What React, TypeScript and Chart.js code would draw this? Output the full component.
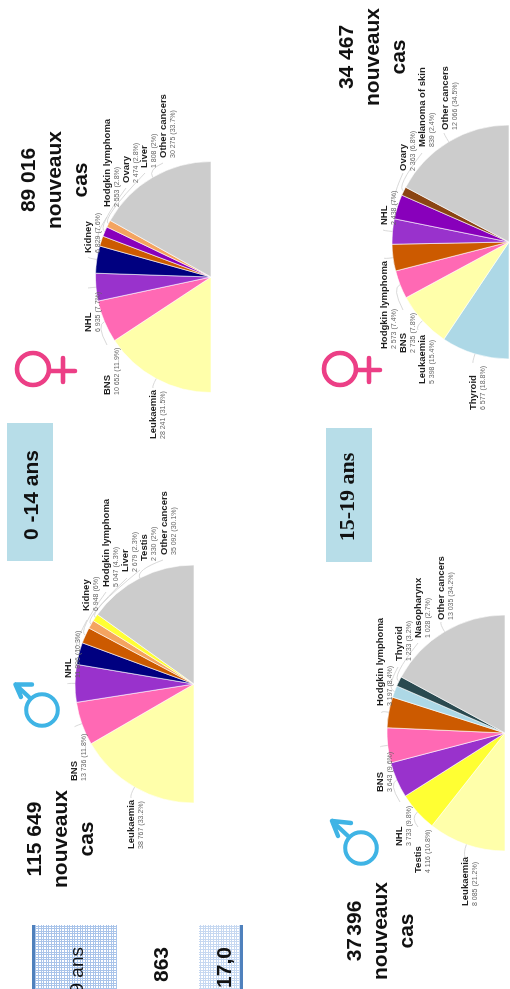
import React, { useEffect, useRef } from "react";
import { Chart, registerables } from "chart.js";

Chart.register(...registerables);

// ---- data ----
const maleChildLabels = ["Leukaemia", "BNS", "NHL", "Kidney", "Hodgkin lymphoma", "Liver", "Testis", "Other cancers"];
const maleChildValues = [38767, 13736, 11896, 6948, 5047, 2679, 2330, 35092];
const maleChildPercents = ["33.2", "11.8", "10.3", "6", "4.3", "2.3", "2", "30.1"];

const femaleChildLabels = ["Leukaemia", "BNS", "NHL", "Kidney", "Hodgkin lymphoma", "Ovary", "Liver", "Other cancers"];
const femaleChildValues = [28241, 10652, 6935, 6829, 2553, 2474, 1808, 30275];
const femaleChildPercents = ["31.5", "11.9", "7.7", "7.6", "2.8", "2.8", "2", "33.7"];

const maleTeenLabels = ["Leukaemia", "Testis", "NHL", "BNS", "Hodgkin lymphoma", "Thyroid", "Nasopharynx", "Other cancers"];
const maleTeenValues = [8085, 4116, 3733, 3643, 3197, 1233, 1028, 13035];
const maleTeenPercents = ["21.2", "10.8", "9.8", "9.6", "8.4", "3.2", "2.7", "34.2"];

const femaleTeenLabels = ["Thyroid", "Leukaemia", "BNS", "Hodgkin lymphoma", "NHL", "Ovary", "Melanoma of skin", "Other cancers"];
const femaleTeenValues = [6577, 5398, 2735, 2573, 2438, 2363, 839, 12066];
const femaleTeenPercents = ["18.8", "15.4", "7.8", "7.4", "7", "6.8", "2.4", "34.5"];

// ---- styles and layout (upright slide coordinates; the slide is turned a quarter turn) ----
const PALE = "#FFFFAA", PINK = "#FF69B4", ORCHID = "#9932CC", NAVY = "#000080", RUST = "#CC5A00",
  SAND = "#F4A460", LEMON = "#FFFF33", GREY = "#CCCCCC", VIOLET = "#8800BB", SKY = "#ADD8E6",
  BROWN = "#8B4513", SLATE = "#2A4A50";

type Pie = {
  labels: string[]; values: number[]; percents: string[]; colors: string[];
  cu: number; cv: number; r: number;
  box: [number, number, number, number];
  text: [number, number][];   // text start u, name baseline v
  anchor: [number, number][]; // end of the leader line
};

const pies: Pie[] = [
  {
    labels: maleChildLabels, values: maleChildValues, percents: maleChildPercents,
    colors: [PALE, PINK, ORCHID, NAVY, RUST, SAND, LEMON, GREY],
    cu: 305, cv: 194, r: 119, box: [0, 0, 500, 255],
    text: [[140, 134], [208, 77], [311, 71], [378, 89], [402, 109], [417, 128], [428, 147], [434, 166.5]],
    anchor: [[191, 131], [262, 75], [305, 68], [369, 87], [397, 106], [411, 127], [419, 140], [429, 163]],
  },
  {
    labels: femaleChildLabels, values: femaleChildValues, percents: femaleChildPercents,
    colors: [PALE, PINK, ORCHID, NAVY, RUST, VIOLET, SAND, GREY],
    cu: 712, cv: 211, r: 115.5, box: [500, 0, 489, 255],
    text: [[550, 156], [594, 110], [657, 91], [736, 91], [782, 110], [806, 129], [821, 147], [831, 166]],
    anchor: [[601, 153], [644, 107], [701, 88], [732, 88], [772, 107], [801, 126], [816, 145], [826, 163]],
  },
  {
    labels: maleTeenLabels, values: maleTeenValues, percents: maleTeenPercents,
    colors: [PALE, LEMON, ORCHID, PINK, RUST, SKY, SLATE, GREY],
    cu: 256, cv: 505, r: 118, box: [0, 255, 500, 255],
    text: [[83, 468], [116, 421], [143, 402], [197, 383], [283, 383], [328, 402], [351, 421], [369, 444]],
    anchor: [[132, 465], [162, 418], [187, 400], [242, 381], [276, 382], [322, 398], [346, 418], [367, 441]],
  },
  {
    labels: femaleTeenLabels, values: femaleTeenValues, percents: femaleTeenPercents,
    colors: [SKY, PALE, PINK, RUST, ORCHID, VIOLET, BROWN, GREY],
    cu: 747, cv: 509, r: 117, box: [500, 255, 489, 255],
    text: [[579, 476], [605, 425], [636, 406], [640, 387], [764, 387], [818, 406], [842, 425], [859, 448]],
    anchor: [[626, 473], [659, 418], [679, 403], [731, 384], [759, 383], [816, 403], [836, 422], [856, 444]],
  },
];

const NAME_FONT = 'bold 9.5px "Liberation Sans"';
const VALUE_FONT = '7px "Liberation Sans"';
const formatValue = (n: number) => String(n).replace(/\B(?=(\d{3})+$)/g, " ");

function PieChart({ pie }: { pie: Pie }) {
  const ref = useRef<HTMLCanvasElement>(null);
  useEffect(() => {
    const [bx, by, bw, bh] = pie.box;
    const labelPlugin = {
      id: "sideLabels",
      afterDatasetsDraw(chart: any) {
        const ctx = chart.ctx as CanvasRenderingContext2D;
        const arcs = chart.getDatasetMeta(0).data;
        ctx.save();
        arcs.forEach((arc: any, i: number) => {
          const mid = (arc.startAngle + arc.endAngle) / 2;
          const sx = arc.x + Math.cos(mid) * arc.outerRadius;
          const sy = arc.y + Math.sin(mid) * arc.outerRadius;
          const cx = arc.x + Math.cos(mid) * (arc.outerRadius + 9);
          const cy = arc.y + Math.sin(mid) * (arc.outerRadius + 9);
          ctx.beginPath();
          ctx.moveTo(sx, sy);
          ctx.quadraticCurveTo(cx, cy, pie.anchor[i][0] - bx, pie.anchor[i][1] - by);
          ctx.strokeStyle = "#CFCFCF";
          ctx.lineWidth = 0.8;
          ctx.stroke();
        });
        arcs.forEach((_: any, i: number) => {
          const tx = pie.text[i][0] - bx;
          const ty = pie.text[i][1] - by;
          ctx.textAlign = "left";
          ctx.textBaseline = "alphabetic";
          ctx.font = NAME_FONT;
          ctx.fillStyle = "#1E1E1E";
          ctx.fillText(pie.labels[i], tx, ty);
          ctx.font = VALUE_FONT;
          ctx.fillStyle = "#666666";
          ctx.fillText(`${formatValue(pie.values[i])} (${pie.percents[i]}%)`, tx, ty + 9.2);
        });
        ctx.restore();
      },
    };
    const chart = new Chart(ref.current as HTMLCanvasElement, {
      type: "pie",
      data: {
        labels: pie.labels,
        datasets: [{
          data: pie.values,
          backgroundColor: pie.colors,
          borderColor: "rgba(255,255,255,0.75)",
          borderWidth: 0.8,
        }],
      },
      options: {
        animation: false,
        responsive: false,
        rotation: -90,
        circumference: 180,
        radius: pie.r,
        layout: {
          padding: {
            left: pie.cu - pie.r - bx,
            right: bx + bw - pie.cu - pie.r,
            top: pie.cv - pie.r - by,
            bottom: by + bh - pie.cv,
          },
        },
        plugins: { legend: { display: false }, tooltip: { enabled: false } },
      },
      plugins: [labelPlugin],
    } as any);
    return () => chart.destroy();
  }, [pie]);
  const [x, y, w, h] = pie.box;
  return (
    <canvas
      ref={ref}
      width={w}
      height={h}
      style={{ position: "absolute", left: x, top: y, width: w, height: h, display: "block" }}
    />
  );
}

const sans = '"Liberation Sans", Arial, sans-serif';
const serif = '"Liberation Serif", "Times New Roman", serif';

function Line(p: { u: number; v: number; text: string; size?: number; weight?: string; font?: string; align?: "center" | "right"; spacing?: number }) {
  const size = p.size ?? 21;
  const top = p.v - size * 0.9465; // baseline of a 1.2em line box
  const common: React.CSSProperties = {
    position: "absolute", top, lineHeight: `${size * 1.2}px`, height: size * 1.2,
    fontFamily: p.font ?? sans, fontWeight: (p.weight ?? "bold") as any, fontSize: size,
    whiteSpace: "pre", color: "#111", wordSpacing: p.spacing ?? 0,
  };
  if (p.align === "right") {
    return <div style={{ ...common, right: 989 - p.u, textAlign: "right" }}>{p.text}</div>;
  }
  return <div style={{ ...common, left: p.u - 100, width: 200, textAlign: "center" }}>{p.text}</div>;
}

function Headline({ u, v, first, spacing }: { u: number; v: number; first: string; spacing?: number }) {
  return (
    <>
      <Line u={u} v={v} text={first} spacing={spacing} />
      <Line u={u} v={v + 26} text="nouveaux" />
      <Line u={u} v={v + 52} text="cas" />
    </>
  );
}

const hatch = (c: string): React.CSSProperties => ({
  backgroundColor: "#fff",
  backgroundImage: `repeating-linear-gradient(0deg, ${c} 0 1px, transparent 1px 2.6px), repeating-linear-gradient(90deg, ${c} 0 1px, transparent 1px 2.6px)`,
});

function Symbols() {
  const blue = "#3FB4E5";
  const rose = "#EC3F86";
  return (
    <svg width={510} height={989} style={{ position: "absolute", left: 0, top: 0 }} fill="none" strokeLinecap="round">
      <g stroke={blue}>
        <circle cx={42} cy={710} r={15.8} strokeWidth={4} />
        <path d="M30 698L15.500 684.500M15.500 684.500L32 684.500M15.500 684.500L21 697" strokeWidth={4.4} />
        <circle cx={361} cy={848} r={15.8} strokeWidth={4} />
        <path d="M348 836L332 821M332 821L351 823M332 821L338 836" strokeWidth={4.4} />
      </g>
      <g stroke={rose}>
        <circle cx={33} cy={369} r={16} strokeWidth={4.6} />
        <path d="M50 371L75 371M63 358L63 382" strokeWidth={4.6} />
        <circle cx={340} cy={369} r={16} strokeWidth={4.6} />
        <path d="M357 370L380 370M369 358L369 382" strokeWidth={4.6} />
      </g>
    </svg>
  );
}

export default function App() {
  return (
    <div style={{ position: "fixed", inset: 0, background: "#fff", overflow: "hidden", filter: "blur(0.45px)" }}>
      <div
        style={{
          position: "absolute", left: 0, top: 0, width: 989, height: 510,
          transformOrigin: "0 0", transform: "translateY(989px) rotate(-90deg)",
        }}
      >
        {pies.map((p, i) => <PieChart key={i} pie={p} />)}

        <Headline u={150} v={41} first="115 649" />
        <Headline u={809} v={34.5} first="89 016" />
        <Headline u={932} v={353} first="34 467" />
        <Headline u={58} v={361} first="37 396" spacing={-3.5} />

        <div style={{ position: "absolute", left: 428, top: 7, width: 138, height: 46, background: "#B7DDE8" }} />
        <Line u={494} v={38} text="0 -14 ans" />
        <div style={{ position: "absolute", left: 427, top: 326, width: 134, height: 46, background: "#B7DDE8" }} />
        <Line u={492} v={355} text="15-19 ans" size={22} font={serif} />

        <div style={{ position: "absolute", left: 0, top: 32, width: 64, height: 85, boxSizing: "border-box", borderTop: "3px solid #4F81BD", ...hatch("#A9C4EA") }} />
        <Line u={42} v={84} text="0-19 ans" align="right" weight="normal" size={19} />
        <Line u={42} v={168} text="863" align="right" />
        <div style={{ position: "absolute", left: 0, top: 199, width: 64, height: 44, boxSizing: "border-box", borderBottom: "3px solid #4F81BD", ...hatch("#C6D8F1") }} />
        <Line u={42} v={231} text="17,0" align="right" />
      </div>
      <Symbols />
    </div>
  );
}
